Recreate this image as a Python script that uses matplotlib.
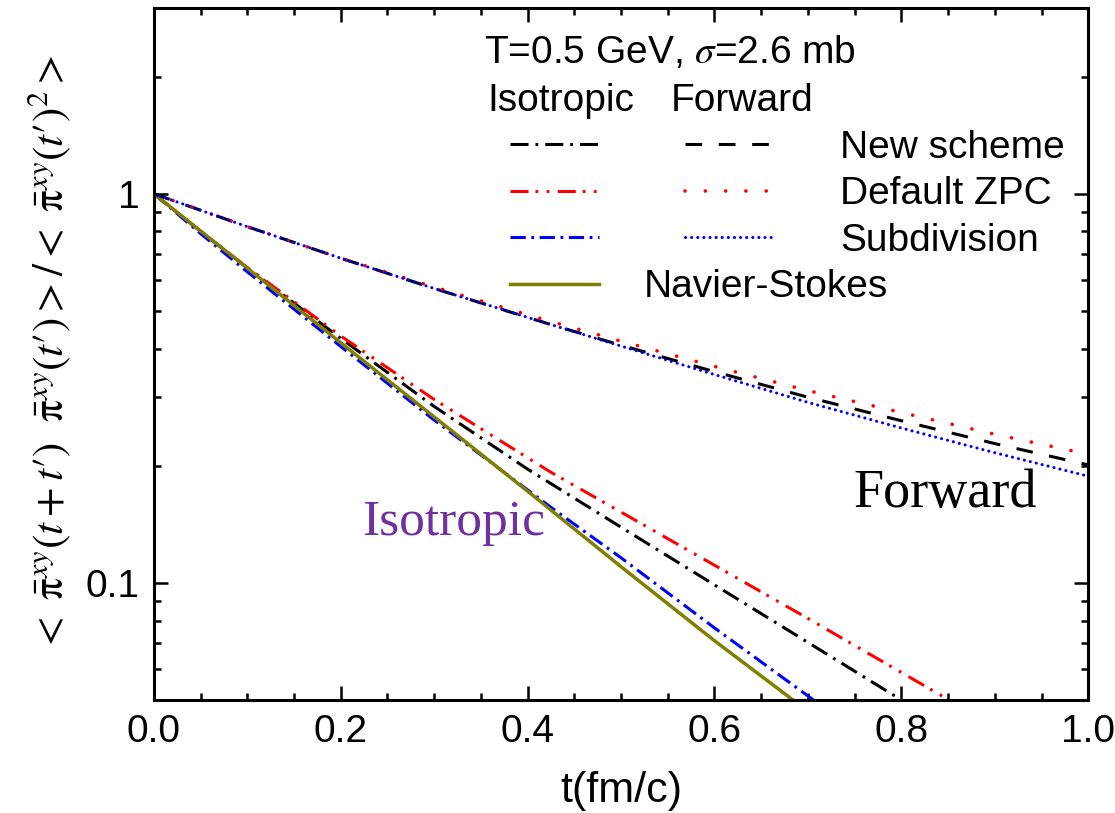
import numpy as np
import matplotlib
matplotlib.use("Agg")
import matplotlib.pyplot as plt
from matplotlib.ticker import FixedLocator, NullFormatter, FixedFormatter

plt.rcParams['font.family'] = ['Liberation Sans', 'DejaVu Sans']
plt.rcParams['mathtext.fontset'] = 'stix'
plt.rcParams['lines.scale_dashes'] = False

# isotropic cross section, t in fm/c
t_iso_new = [0.0, 0.05, 0.1, 0.2, 0.3, 0.4, 0.5, 0.6, 0.7, 0.80]
y_iso_new = [1.0, 0.80, 0.645, 0.425, 0.284, 0.196, 0.139, 0.0988, 0.0703, 0.05]

t_iso_zpc = [0.0, 0.05, 0.1, 0.2, 0.3, 0.424, 0.5, 0.6, 0.7, 0.851]
y_iso_zpc = [1.0, 0.80, 0.647, 0.431, 0.296, 0.193, 0.152, 0.111, 0.081, 0.05]

t_iso_sub = [0.0, 0.05, 0.1, 0.2, 0.3, 0.424, 0.5, 0.6, 0.706]
y_iso_sub = [1.0, 0.79, 0.63, 0.405, 0.262, 0.157, 0.116, 0.0766, 0.05]

t_ns = [0.0, 0.1, 0.2, 0.3, 0.4, 0.5, 0.6, 0.684]
y_ns = [1.0, 0.644, 0.414, 0.267, 0.172, 0.110, 0.071, 0.05]

# forward cross section
t_fwd = [0.0, 0.1, 0.2, 0.3, 0.42, 0.5, 0.6, 0.7, 0.8, 0.9, 1.0]
y_fwd_new = [1.0, 0.823, 0.683, 0.571, 0.465, 0.408, 0.349, 0.300, 0.261, 0.228, 0.201]
y_fwd_zpc = [1.0, 0.823, 0.683, 0.576, 0.473, 0.418, 0.360, 0.312, 0.274, 0.241, 0.214]
y_fwd_sub = [1.0, 0.823, 0.683, 0.571, 0.465, 0.406, 0.343, 0.291, 0.250, 0.216, 0.188]

fig = plt.figure(figsize=(11.15, 8.13), dpi=100)
ax = fig.add_axes([0.138, 0.139, 0.838, 0.851])

lw = 2.2
h_new_i, = ax.plot(t_iso_new, y_iso_new, color='black', lw=lw, ls=(0, (13, 5, 2, 5)))
h_zpc_i, = ax.plot(t_iso_zpc, y_iso_zpc, color='red', lw=lw, ls=(0, (13, 5, 2, 6, 2, 6)))
h_sub_i, = ax.plot(t_iso_sub, y_iso_sub, color='blue', lw=lw, ls=(0, (11, 4, 2, 4)))
h_ns, = ax.plot(t_ns, y_ns, color='#808000', lw=2.5, ls='-')
h_new_f, = ax.plot(t_fwd, y_fwd_new, color='black', lw=lw, ls=(0, (12, 12)))
h_zpc_f, = ax.plot(t_fwd, y_fwd_zpc, color='red', lw=2.6, ls=(0, (0.1, 14.5)),
                   dash_capstyle='round')
h_sub_f, = ax.plot(t_fwd, y_fwd_sub, color='blue', lw=2.2, ls=(0, (0.1, 4.3)),
                   dash_capstyle='round')

ax.set_yscale('log')
ax.set_xlim(0, 1.0)
ax.set_ylim(0.05, 3)

ax.xaxis.set_major_locator(FixedLocator([0, 0.2, 0.4, 0.6, 0.8, 1.0]))
ax.xaxis.set_minor_locator(FixedLocator(np.arange(0, 1.001, 0.05)))
ax.set_xticklabels(['0.0', '0.2', '0.4', '0.6', '0.8', '1.0'])
ax.yaxis.set_major_locator(FixedLocator([0.1, 1]))
ax.yaxis.set_major_formatter(FixedFormatter(['0.1', '1']))
ax.yaxis.set_minor_locator(FixedLocator([0.06, 0.07, 0.08, 0.09, 0.2, 0.3, 0.4,
                                         0.5, 0.6, 0.7, 0.8, 0.9, 2, 3]))
ax.yaxis.set_minor_formatter(NullFormatter())

ax.tick_params(which='both', direction='in', top=True, right=True, width=1.8)
ax.tick_params(which='major', length=10, labelsize=28, pad=10)
ax.tick_params(which='minor', length=5)
for s in ax.spines.values():
    s.set_linewidth(2.2)

ax.set_xlabel('t(fm/c)', fontsize=31, labelpad=15)
ax.set_ylabel(r"$<\ \bar{\mathrm{\pi}}^{xy}(t+t′)\ \ \bar{\mathrm{\pi}}^{xy}(t′)>/<\ \bar{\mathrm{\pi}}^{xy}(t′)^2>$",
              fontsize=31)
ax.yaxis.set_label_coords(-0.087, 0.5)

ax.text(0.552, 0.936, r'T=0.5 GeV, $\sigma$=2.6 mb', transform=ax.transAxes,
        fontsize=28, ha='center', va='center')
ax.text(0.435, 0.866, 'Isotropic', transform=ax.transAxes, fontsize=28,
        ha='center', va='center')
ax.text(0.63, 0.866, 'Forward', transform=ax.transAxes, fontsize=28,
        ha='center', va='center')

leg1 = ax.legend([h_new_i, h_zpc_i, h_sub_i, h_ns], ['', '', '', 'Navier-Stokes'],
                 loc='upper left', bbox_to_anchor=(0.381, 0.824), frameon=False,
                 fontsize=28, handlelength=2.3, handletextpad=1.15,
                 labelspacing=0.27, borderpad=0, borderaxespad=0)
ax.add_artist(leg1)
ax.legend([h_new_f, h_zpc_f, h_sub_f], ['New scheme', 'Default ZPC', 'Subdivision'],
          loc='upper left', bbox_to_anchor=(0.568, 0.824), frameon=False,
          fontsize=28, handlelength=2.3, handletextpad=1.7,
          labelspacing=0.27, borderpad=0, borderaxespad=0)

ax.text(0.749, 0.279, 'Forward', transform=ax.transAxes, fontsize=39,
        family='Liberation Serif', ha='left', va='baseline')
ax.text(0.223, 0.238, 'Isotropic', transform=ax.transAxes, fontsize=37,
        family='Liberation Serif', color='#7030A0', ha='left', va='baseline')

fig.savefig('out.png', dpi=100)
